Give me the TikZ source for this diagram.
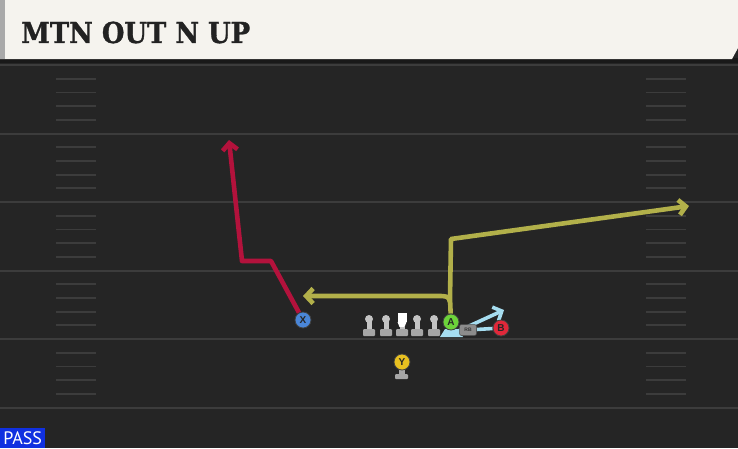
\documentclass[tikz,border=0pt]{standalone}
\usepackage{fontspec}
\setmainfont{Liberation Sans}
\newfontfamily\titlefont[FakeBold=1.2]{DejaVu Serif}
\newfontfamily\tagfont{PT Sans}
\usetikzlibrary{arrows.meta}

\definecolor{fieldgray}{HTML}{252525}
\definecolor{linegray}{HTML}{3C3C3C}
\definecolor{hashgray}{HTML}{3C3C3C}
\definecolor{headcream}{HTML}{F5F3EE}
\definecolor{edgegray}{HTML}{A9A9A9}
\definecolor{titleink}{HTML}{222222}
\definecolor{passblue}{HTML}{1030E0}
\definecolor{redroute}{HTML}{B3123C}
\definecolor{yelroute}{HTML}{B2B04A}
\definecolor{blueroute}{HTML}{A6DDF0}
\definecolor{xblue}{HTML}{4A86D8}
\definecolor{agreen}{HTML}{6CD33A}
\definecolor{bred}{HTML}{E0283A}
\definecolor{yyellow}{HTML}{E8C020}
\definecolor{mangray}{HTML}{C4C4C4}
\definecolor{basegray}{HTML}{A6A6A6}
\definecolor{rbgray}{HTML}{8C8C8C}

\pgfdeclarelayer{bg}
\pgfdeclarelayer{mid}
\pgfsetlayers{bg,mid,main}

\tikzset{
  yardline/.style={draw=linegray, line width=2pt},
  hashmark/.style={draw=hashgray, line width=1.8pt},
  route/.style={line width=4.6pt, line join=round,
    -{Straight Barb[length=7pt,width=15pt,line join=miter]}},
  player/.style={circle, draw=black!75, line width=0.8pt, minimum size=16pt,
    inner sep=0pt, text=black!85,
    font=\bfseries\fontsize{10}{10}\selectfont},
  rbtag/.style={rectangle, rounded corners=2pt, fill=rbgray, draw=black!70,
    line width=0.5pt, minimum width=17pt, minimum height=11pt, inner sep=0pt,
    text=black!80, font=\bfseries\fontsize{5}{5}\selectfont},
  passtag/.style={rectangle, fill=passblue, text=white, minimum width=45pt,
    minimum height=20pt, inner sep=0pt,
    font=\tagfont\fontsize{18}{18}\selectfont},
  lineman/.pic={
    \fill[mangray] (0,0) circle (4);
    \fill[mangray] (-2.5,2) rectangle (2.5,11);
    \fill[basegray, rounded corners=1pt] (-6,10) rectangle (6,17);
  },
  centerman/.pic={
    \fill[white] (-4.5,-6) rectangle (4.5,3);
    \fill[white] (-4.5,3) -- (4.5,3) -- (2.5,8) -- (-2.5,8) -- cycle;
    \fill[mangray] (-2.5,8) rectangle (2.5,11);
    \fill[basegray, rounded corners=1pt] (-6,10) rectangle (6,17);
  }
}

\begin{document}
\begin{tikzpicture}[x=1pt, y=-1pt]
  \useasboundingbox (0,0) rectangle (738,448);

  % field, yard lines, hashes
  \begin{pgfonlayer}{bg}
    \fill[fieldgray] (0,0) rectangle (738,448);
    \foreach \y in {65,133.5,202,270.5,339,407.5}
      \draw[yardline] (0,\y) -- (738,\y);
    \foreach \y in {65,133.5,202,270.5,339}
      \foreach \k in {1,...,4} {
        \draw[hashmark] (56,\y+\k*13.7) -- (96,\y+\k*13.7);
        \draw[hashmark] (646,\y+\k*13.7) -- (686,\y+\k*13.7);
      }
    % header
    \fill[black!90] (0,58) rectangle (738,63);
    \fill[headcream] (0,0) -- (738,0) -- (738,48) -- (732,59) -- (0,59) -- cycle;
    \fill[edgegray] (0,0) rectangle (5,59);
  \end{pgfonlayer}

  \node[anchor=west, text=titleink, inner sep=0pt] (title) at (21,32.5)
    {\titlefont\bfseries\fontsize{28.8}{30}\selectfont\scalebox{0.9}[1]{MTN OUT N UP}};
  \node[passtag, anchor=south west] (pass) at (0,448) {PASS};

  % line
  \foreach \x in {369,386,417,434}
    \pic at (\x,319) {lineman};
  \pic at (402,319) {centerman};

  % players
  \fill[basegray] (399,368) rectangle (405,375);
  \fill[basegray, rounded corners=1pt] (395,374) rectangle (408,379);
  \fill[blueroute] (440,337) -- (463,337) -- (458,329) -- (445,329) -- cycle;
  \node[player, fill=xblue] (X) at (303,320) {X};
  \node[player, fill=agreen] (A) at (451,322) {A};
  \node[rbtag] (RB) at (468,330) {RB};
  \node[player, fill=bred] (B) at (501,328) {B};
  \node[player, fill=yyellow] (Y) at (402,362) {Y};

  \coordinate (xend) at (229,140);
  \coordinate (aend) at (689,206);
  \coordinate (asplit) at (450,302);
  \coordinate (aout) at (303,296);
  \coordinate (rbstart) at (456,332);
  \coordinate (rbend) at (504,310);

  % routes
  \begin{pgfonlayer}{mid}
    \draw[route, redroute] (X) -- (271,261) -- (242,261) -- (xend);
    \draw[route, yelroute] (A) -- (450,298) -- (451,239) -- (aend);
    \draw[route, yelroute] (asplit) .. controls (449,296) and (446,296) .. (438,296) -- (aout);
    \draw[route, blueroute, line width=3.6pt] (rbstart) -- (rbend);
    \draw[blueroute, line width=3.6pt] (RB) -- (B);
  \end{pgfonlayer}
\end{tikzpicture}
\end{document}
